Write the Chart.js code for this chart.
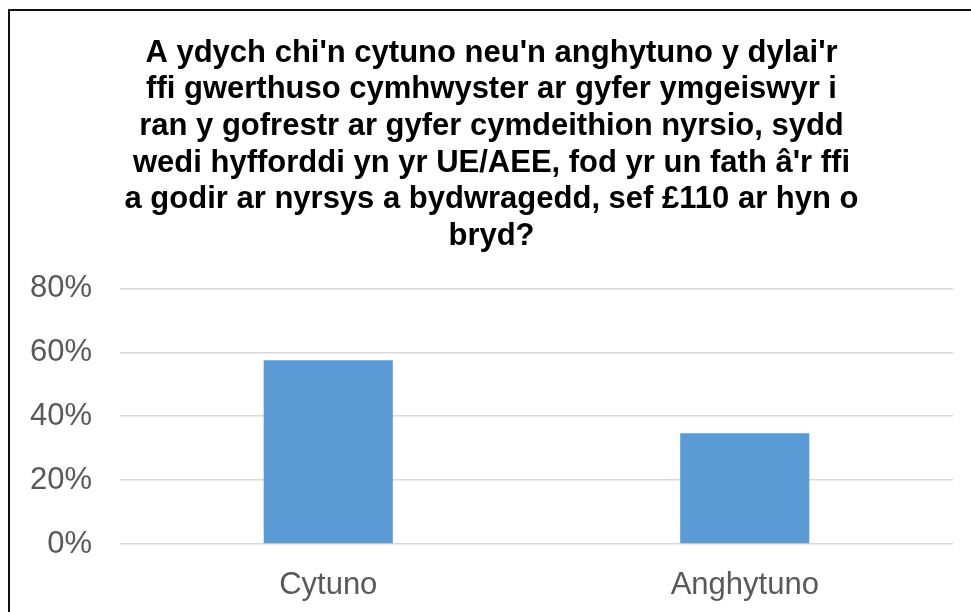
<!DOCTYPE html>
<html>
<head>
<meta charset="utf-8">
<script src="https://cdn.jsdelivr.net/npm/chart.js@4.4.1/dist/chart.umd.min.js"></script>
<style>
  html, body { margin: 0; padding: 0; background: #fff; overflow: hidden; }
  .frame {
    position: absolute;
    left: 8px;
    top: 9px;
    width: 1000px;
    height: 640px;
    border: 2px solid #111;
    box-shadow: 1px 1px 0 #bbb;
  }
  .frame canvas { display: block; }
</style>
</head>
<body>
<div class="frame">
  <canvas id="chart" width="972" height="601"></canvas>
</div>
<script>
const titleLines = [
  "A ydych chi'n cytuno neu'n anghytuno y dylai'r",
  "ffi gwerthuso cymhwyster ar gyfer ymgeiswyr i",
  "ran y gofrestr ar gyfer cymdeithion nyrsio, sydd",
  "wedi hyfforddi yn yr UE/AEE, fod yr un fath â'r ffi",
  "a godir ar nyrsys a bydwragedd, sef £110 ar hyn o",
  "bryd?"
];
const categories = ['Cytuno', 'Anghytuno'];
const shares = [57.5, 34.7];
const yTicks = [0, 20, 40, 60, 80];

const fontFamily = "'Liberation Sans', Arial, sans-serif";

new Chart(document.getElementById('chart').getContext('2d'), {
  type: 'bar',
  data: {
    labels: categories,
    datasets: [{
      data: shares,
      backgroundColor: '#5B9BD5',
      borderWidth: 0,
      categoryPercentage: 1,
      barPercentage: 0.31
    }]
  },
  options: {
    responsive: false,
    animation: false,
    layout: { padding: { left: 20, right: 29, top: 0, bottom: 11 } },
    plugins: {
      legend: { display: false },
      tooltip: { enabled: false },
      title: {
        display: true,
        text: titleLines,
        color: '#000',
        font: { family: fontFamily, size: 31, weight: 'bold', lineHeight: 1.18 },
        padding: { top: 24, bottom: 34 }
      }
    },
    scales: {
      x: {
        grid: { display: false },
        border: { display: false },
        ticks: { color: '#595959', font: { family: fontFamily, size: 31 }, padding: 15 },
        afterFit: (axis) => { axis.height = 57; }
      },
      y: {
        min: yTicks[0],
        max: yTicks[yTicks.length - 1],
        afterBuildTicks: (axis) => { axis.ticks = yTicks.map(v => ({ value: v })); },
        grid: { color: '#D9D9D9', lineWidth: 1.5, drawTicks: false },
        border: { display: false },
        ticks: {
          color: '#595959',
          font: { family: fontFamily, size: 31 },
          padding: 28,
          callback: (v) => v + '%'
        },
        afterFit: (axis) => { axis.width = 90; }
      }
    }
  }
});
</script>
</body>
</html>
